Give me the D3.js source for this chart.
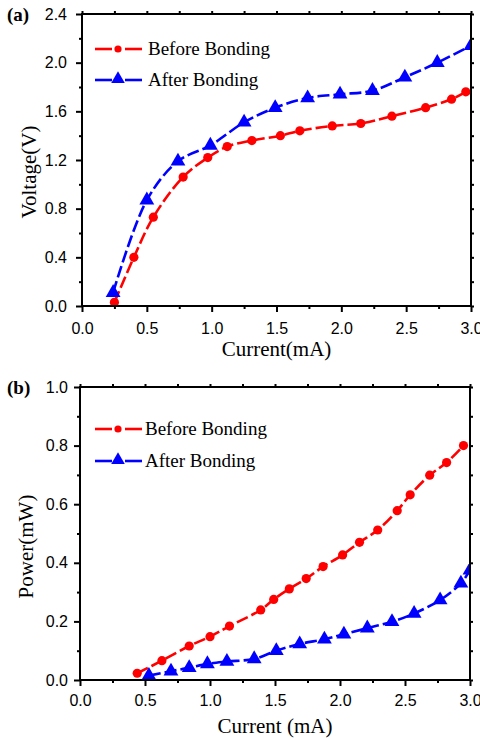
<!DOCTYPE html>
<html lang="en">
<head>
    <meta charset="utf-8">
    <title>Voltage and Power vs Current</title>
    <script src="https://d3js.org/d3.v7.min.js"></script>
    <style>
        body, html {
            margin: 0;
            padding: 0;
            background: #ffffff;
        }
        .tick text {
            font-family: "Liberation Sans", Arial, sans-serif;
            font-size: 16px;
            fill: #000;
        }
        .tick line {
            stroke: #000;
            stroke-width: 2;
        }
        .title {
            font-family: "Liberation Serif", "Times New Roman", serif;
            font-size: 21px;
            fill: #000;
        }
        .legend {
            font-family: "Liberation Serif", "Times New Roman", serif;
            font-size: 19px;
            fill: #000;
        }
        .panel {
            font-family: "Liberation Serif", "Times New Roman", serif;
            font-size: 19px;
            font-weight: bold;
            fill: #000;
        }
    </style>
</head>
<body>
<div id="chart"></div>

<script type="text/javascript">
    // Data

    // (a) Voltage vs current
    var beforeCurrentA = [0.25, 0.40, 0.55, 0.78, 0.97, 1.12, 1.31, 1.53, 1.68, 1.93, 2.15, 2.39, 2.65, 2.85, 2.96];
    var beforeVoltage = [0.03, 0.40, 0.73, 1.06, 1.22, 1.31, 1.36, 1.40, 1.44, 1.48, 1.50, 1.56, 1.63, 1.70, 1.76];
    var afterCurrentA = [0.24, 0.50, 0.74, 0.99, 1.25, 1.49, 1.74, 1.99, 2.24, 2.49, 2.74, 3.00];
    var afterVoltage = [0.11, 0.87, 1.19, 1.32, 1.51, 1.63, 1.71, 1.74, 1.77, 1.88, 2.00, 2.14];

    // (b) Power vs current
    var beforeCurrentB = [0.44, 0.63, 0.84, 1.00, 1.15, 1.39, 1.49, 1.61, 1.74, 1.87, 2.02, 2.15, 2.29, 2.44, 2.54, 2.69, 2.82, 2.95];
    var beforePower = [0.023, 0.066, 0.116, 0.148, 0.184, 0.239, 0.275, 0.311, 0.346, 0.387, 0.427, 0.470, 0.512, 0.578, 0.632, 0.699, 0.742, 0.800];
    var afterCurrentB = [0.53, 0.70, 0.84, 0.98, 1.13, 1.34, 1.51, 1.69, 1.88, 2.03, 2.21, 2.40, 2.57, 2.77, 2.93, 3.00];
    var afterPower = [0.015, 0.030, 0.042, 0.055, 0.063, 0.072, 0.100, 0.123, 0.139, 0.156, 0.177, 0.199, 0.227, 0.273, 0.330, 0.375];

    // Tick values
    var xTicks = [0.0, 0.5, 1.0, 1.5, 2.0, 2.5, 3.0];
    var xMinorTicks = [0.25, 0.75, 1.25, 1.75, 2.25, 2.75];
    var voltageTicks = [0.0, 0.4, 0.8, 1.2, 1.6, 2.0, 2.4];
    var voltageMinorTicks = [0.2, 0.6, 1.0, 1.4, 1.8, 2.2];
    var powerTicks = [0.0, 0.2, 0.4, 0.6, 0.8, 1.0];
    var powerMinorTicks = [0.1, 0.3, 0.5, 0.7, 0.9];

    var seriesNames = ["Before Bonding", "After Bonding"];

    var w = 480;
    var h = 738;

    var svg = d3.select("#chart")
        .append("svg")
        .attr("width", w)
        .attr("height", h);

    var zip = function (xs, ys) {
        return xs.map(function (x, i) {
            return {x: x, y: ys[i]};
        });
    };

    // Draws one panel with box, ticks, two series and legend
    var drawPanel = function (p) {
        var xScale = d3.scaleLinear().domain([0, 3]).range([p.left, p.right]);
        var yScale = d3.scaleLinear().domain([0, p.yMax]).range([p.bottom, p.top]);

        var g = svg.append("g");

        // minor ticks first
        g.append("g")
            .attr("transform", "translate(0," + p.bottom + ")")
            .call(d3.axisBottom(xScale).tickValues(xMinorTicks).tickSize(3).tickFormat("").tickSizeOuter(0))
            .select(".domain").remove();
        g.append("g")
            .attr("transform", "translate(" + p.left + ",0)")
            .call(d3.axisLeft(yScale).tickValues(p.yMinor).tickSize(3).tickFormat("").tickSizeOuter(0))
            .select(".domain").remove();
        // top and right ticks
        g.append("g")
            .attr("transform", "translate(0," + p.top + ")")
            .call(d3.axisTop(xScale).tickValues(xTicks.concat(xMinorTicks)).tickSize(3).tickFormat("").tickSizeOuter(0))
            .select(".domain").remove();
        g.append("g")
            .attr("transform", "translate(" + p.right + ",0)")
            .call(d3.axisRight(yScale).tickValues(p.yTicks.concat(p.yMinor)).tickSize(3).tickFormat("").tickSizeOuter(0))
            .select(".domain").remove();

        // major ticks with labels
        g.append("g")
            .attr("transform", "translate(0," + p.bottom + ")")
            .call(d3.axisBottom(xScale).tickValues(xTicks).tickSize(6).tickPadding(p.xPad)
                .tickFormat(d3.format(".1f")).tickSizeOuter(0))
            .select(".domain").remove();
        g.append("g")
            .attr("transform", "translate(" + p.left + ",0)")
            .call(d3.axisLeft(yScale).tickValues(p.yTicks).tickSize(6).tickPadding(p.yPad)
                .tickFormat(d3.format(".1f")).tickSizeOuter(0))
            .select(".domain").remove();

        // frame
        g.append("rect")
            .attr("x", p.left)
            .attr("y", p.top)
            .attr("width", p.right - p.left)
            .attr("height", p.bottom - p.top)
            .attr("fill", "none")
            .attr("stroke", "#000")
            .attr("stroke-width", 2);

        // clip for data
        svg.append("clipPath")
            .attr("id", p.id)
            .append("rect")
            .attr("x", p.left + 1)
            .attr("y", p.top + 1)
            .attr("width", p.right - p.left - 2)
            .attr("height", p.bottom - p.top - 2);

        var plot = g.append("g").attr("clip-path", "url(#" + p.id + ")");

        var line = d3.line()
            .x(function (d) { return xScale(d.x); })
            .y(function (d) { return yScale(d.y); })
            .curve(d3.curveCatmullRom.alpha(0.5));

        var before = zip(p.bx, p.by);
        var after = zip(p.ax, p.ay);

        plot.append("path")
            .datum(after)
            .attr("d", line)
            .attr("fill", "none")
            .attr("stroke", "#0000ff")
            .attr("stroke-width", 2.6)
            .attr("stroke-dasharray", "12,4");

        plot.append("path")
            .datum(before)
            .attr("d", line)
            .attr("fill", "none")
            .attr("stroke", "#ff0000")
            .attr("stroke-width", 2.6)
            .attr("stroke-dasharray", "12,4");

        plot.selectAll(".tri")
            .data(after)
            .enter()
            .append("path")
            .attr("class", "tri")
            .attr("d", d3.symbol().type(d3.symbolTriangle).size(95))
            .attr("transform", function (d) {
                return "translate(" + xScale(d.x) + "," + yScale(d.y) + ")";
            })
            .attr("fill", "#0000ff");

        plot.selectAll(".dot")
            .data(before)
            .enter()
            .append("circle")
            .attr("class", "dot")
            .attr("cx", function (d) { return xScale(d.x); })
            .attr("cy", function (d) { return yScale(d.y); })
            .attr("r", 4.6)
            .attr("fill", "#ff0000");

        // legend
        var colors = ["#ff0000", "#0000ff"];
        seriesNames.forEach(function (name, i) {
            var ly = p.legendY + i * p.legendGap;
            var lg = g.append("g").attr("transform", "translate(95," + ly + ")");
            lg.append("line")
                .attr("x1", 0).attr("x2", 17).attr("y1", 0).attr("y2", 0)
                .attr("stroke", colors[i]).attr("stroke-width", 2.6);
            lg.append("line")
                .attr("x1", 30).attr("x2", 47).attr("y1", 0).attr("y2", 0)
                .attr("stroke", colors[i]).attr("stroke-width", 2.6);
            if (i === 0) {
                lg.append("circle").attr("cx", 23).attr("cy", 0).attr("r", 3.6).attr("fill", colors[i]);
            } else {
                lg.append("path")
                    .attr("d", d3.symbol().type(d3.symbolTriangle).size(80))
                    .attr("transform", "translate(23,-1)")
                    .attr("fill", colors[i]);
            }
            lg.append("text")
                .attr("class", "legend")
                .attr("x", p.legendText)
                .attr("y", 6)
                .text(name);
        });

        // axis titles
        svg.append("text")
            .attr("class", "title")
            .attr("x", (p.left + p.right) / 2)
            .attr("y", p.xTitleY)
            .attr("text-anchor", "middle")
            .text(p.xTitle);

        svg.append("text")
            .attr("class", "title")
            .attr("transform", "translate(" + p.yTitleX + "," + ((p.top + p.bottom) / 2 + p.yTitleShift) + ") rotate(-90)")
            .attr("text-anchor", "middle")
            .text(p.yTitle);

        svg.append("text")
            .attr("class", "panel")
            .attr("x", 7)
            .attr("y", p.top + 7)
            .text(p.label);
    };

    drawPanel({
        id: "clipA", label: "(a)",
        left: 82, right: 471, top: 14, bottom: 306,
        yMax: 2.4, yTicks: voltageTicks, yMinor: voltageMinorTicks,
        xPad: 11, yPad: 9,
        bx: beforeCurrentA, by: beforeVoltage, ax: afterCurrentA, ay: afterVoltage,
        legendY: 49, legendGap: 31, legendText: 53,
        xTitle: "Current(mA)", xTitleY: 356,
        yTitle: "Voltage(V)", yTitleX: 36, yTitleShift: 12
    });

    drawPanel({
        id: "clipB", label: "(b)",
        left: 80, right: 470, top: 387, bottom: 680,
        yMax: 1.0, yTicks: powerTicks, yMinor: powerMinorTicks,
        xPad: 9, yPad: 6,
        bx: beforeCurrentB, by: beforePower, ax: afterCurrentB, ay: afterPower,
        legendY: 429, legendGap: 32, legendText: 50,
        xTitle: "Current (mA)", xTitleY: 733,
        yTitle: "Power(mW)", yTitleX: 33, yTitleShift: 13
    });
</script>
</body>
</html>
